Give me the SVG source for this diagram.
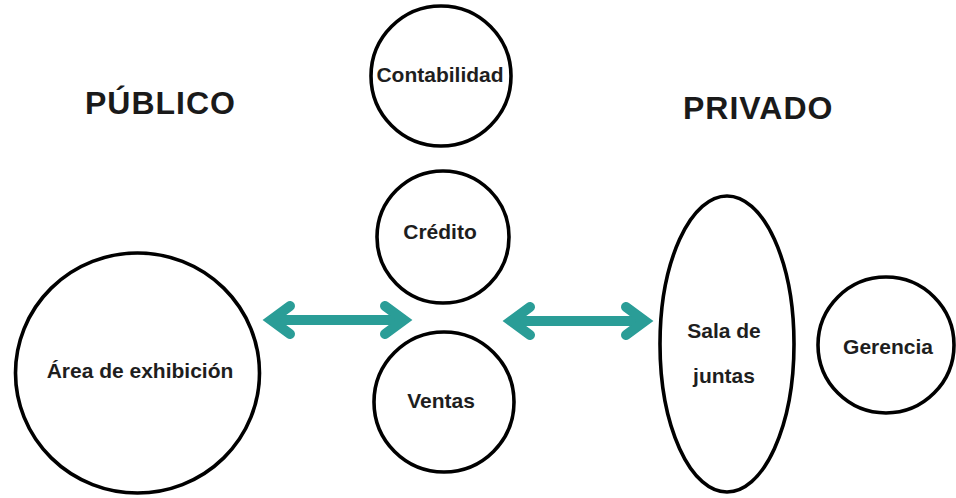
<svg xmlns="http://www.w3.org/2000/svg" width="956" height="498" viewBox="0 0 956 498">
<style>
.node{fill:#fff;stroke:#000;stroke-width:3.6}
.lbl{font-family:"Liberation Sans",Arial,sans-serif;font-weight:bold;font-size:21px;fill:#1e1e1e;text-anchor:middle}
.title{font-family:"Liberation Sans",Arial,sans-serif;font-weight:bold;font-size:32px;fill:#1a1a1a;letter-spacing:1px}
.arr{fill:none;stroke:#2a9d97;stroke-width:10;stroke-linecap:round;stroke-linejoin:miter}
</style>
<rect width="956" height="498" fill="#fff"/>
<text class="title" x="85" y="114">PÚBLICO</text>
<text class="title" x="683" y="119">PRIVADO</text>
<g id="contabilidad">
<circle class="node" cx="441" cy="76" r="70"/>
<text class="lbl" x="440" y="82">Contabilidad</text>
</g>
<g id="credito">
<circle class="node" cx="443" cy="237" r="66"/>
<text class="lbl" x="440" y="239">Crédito</text>
</g>
<g id="ventas">
<circle class="node" cx="444" cy="402" r="70"/>
<text class="lbl" x="441" y="408">Ventas</text>
</g>
<g id="area-exhibicion">
<ellipse class="node" cx="137.5" cy="373" rx="122" ry="120"/>
<text class="lbl" x="140" y="378">Área de exhibición</text>
</g>
<g id="sala-juntas">
<ellipse class="node" cx="727" cy="344" rx="67" ry="148"/>
<text class="lbl" x="724" y="338">Sala de</text>
<text class="lbl" x="724" y="383">juntas</text>
</g>
<g id="gerencia">
<circle class="node" cx="886" cy="345" r="68"/>
<text class="lbl" x="888" y="354">Gerencia</text>
</g>
<g id="connectors">
<g id="arrow-area-ventas">
<line class="arr" x1="272" y1="320" x2="403" y2="320"/>
<polyline class="arr" points="290,306 271,320 290,334"/>
<polyline class="arr" points="385,306 404,320 385,334"/>
</g>
<g id="arrow-ventas-sala">
<line class="arr" x1="513" y1="321" x2="644" y2="321"/>
<polyline class="arr" points="530,307 511,321 530,335"/>
<polyline class="arr" points="626,307 645,321 626,335"/>
</g>
</g>
</svg>
